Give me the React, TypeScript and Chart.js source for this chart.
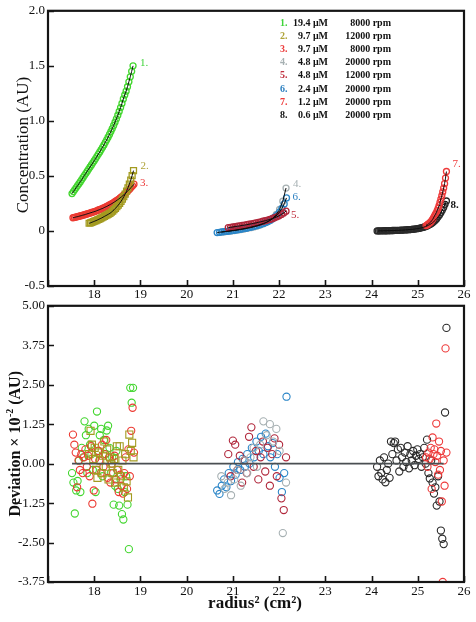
import React, { useEffect, useRef } from "react";
import { Chart, registerables } from "chart.js";

Chart.register(...registerables);

const FONT = "'Liberation Serif', 'Times New Roman', serif";

// ---------- text ----------
const SERIES_NUMBERS = ["1.", "2.", "3.", "4.", "5.", "6.", "7.", "8."];
const SERIES_CONCENTRATIONS = ["19.4 μM", "9.7 μM", "9.7 μM", "4.8 μM", "4.8 μM", "2.4 μM", "1.2 μM", "0.6 μM"];
const SERIES_SPEEDS = ["8000 rpm", "12000 rpm", "8000 rpm", "20000 rpm", "12000 rpm", "20000 rpm", "20000 rpm", "20000 rpm"];

const X_TICK_LABELS = ["", "18", "19", "20", "21", "22", "23", "24", "25", "26"];
const TOP_Y_TICK_LABELS = ["-0.5", "0", "0.5", "1.0", "1.5", "2.0"];
const BOTTOM_Y_TICK_LABELS = ["-3.75", "-2.50", "-1.25", "0.00", "1.25", "2.50", "3.75", "5.00"];

const TOP_Y_TITLE = "Concentration (AU)";
const X_TITLE = "radius² (cm²)";
const BOTTOM_Y_TITLE_PARTS = ["Deviation × 10", "-2", " (AU)"];

// ---------- data: radius² (cm²), concentration (AU), deviation (×10⁻² AU) ----------
const S1_R2 = [17.52, 17.55, 17.58, 17.61, 17.64, 17.67, 17.70, 17.73, 17.76, 17.79, 17.82, 17.85, 17.88, 17.91, 17.94, 17.97, 18.00, 18.03, 18.06, 18.09, 18.12, 18.15, 18.18, 18.21, 18.24, 18.27, 18.30, 18.33, 18.36, 18.39, 18.42, 18.45, 18.48, 18.51, 18.54, 18.57, 18.60, 18.63, 18.66, 18.69, 18.72, 18.75, 18.78, 18.81, 18.84];
const S1_CONC = [0.340, 0.358, 0.376, 0.394, 0.412, 0.430, 0.448, 0.467, 0.486, 0.505, 0.524, 0.543, 0.562, 0.581, 0.600, 0.619, 0.638, 0.658, 0.678, 0.698, 0.718, 0.739, 0.760, 0.782, 0.805, 0.828, 0.852, 0.877, 0.903, 0.930, 0.958, 0.988, 1.019, 1.051, 1.085, 1.121, 1.159, 1.199, 1.235, 1.27, 1.31, 1.355, 1.40, 1.45, 1.50];
const S1_DEV = [-0.3, -0.6, -1.58, -0.85, -0.55, 0.1, -0.9, 0.5, 0.2, 1.34, 0.9, -0.3, 1.1, 0.6, 0.3, -0.2, 1.2, -0.9, 1.65, 0.4, 0.9, 1.1, -0.4, 0.75, 0.3, 1.05, 1.2, 0.5, -0.3, 0.2, -1.3, -0.7, 0.4, -0.8, -1.33, -0.5, -1.6, -1.77, -0.9, -0.4, -1.3, -2.71, 2.4, 1.93, 2.4];

const S2_R2 = [17.89, 17.92, 17.95, 17.98, 18.01, 18.04, 18.07, 18.10, 18.13, 18.16, 18.19, 18.22, 18.25, 18.28, 18.31, 18.34, 18.37, 18.40, 18.43, 18.46, 18.49, 18.52, 18.55, 18.58, 18.61, 18.64, 18.67, 18.70, 18.73, 18.76, 18.79, 18.82, 18.85];
const S2_CONC = [0.070, 0.074, 0.079, 0.084, 0.089, 0.094, 0.100, 0.106, 0.112, 0.118, 0.125, 0.132, 0.139, 0.146, 0.153, 0.160, 0.170, 0.181, 0.193, 0.206, 0.220, 0.235, 0.251, 0.269, 0.289, 0.311, 0.335, 0.362, 0.392, 0.425, 0.462, 0.503, 0.548];
const S2_DEV = [0.3, 1.04, 0.6, 0.15, 0.5, -0.2, -0.45, 0.35, 0.1, -0.3, 0.25, 0.7, -0.1, 0.45, -0.5, 0.2, 0.0, -0.3, 0.15, -0.6, 0.55, -0.2, 0.55, -0.4, 0.1, -0.75, 0.3, -0.56, -1.07, 0.92, 0.4, 0.66, 0.2];

const S3_R2 = [17.54, 17.57, 17.60, 17.63, 17.66, 17.69, 17.72, 17.75, 17.78, 17.81, 17.84, 17.87, 17.90, 17.93, 17.96, 17.99, 18.02, 18.05, 18.08, 18.11, 18.14, 18.17, 18.20, 18.23, 18.26, 18.29, 18.32, 18.35, 18.38, 18.41, 18.44, 18.47, 18.50, 18.53, 18.56, 18.59, 18.62, 18.65, 18.68, 18.71, 18.74, 18.77, 18.80, 18.83, 18.86];
const S3_CONC = [0.120, 0.123, 0.126, 0.129, 0.132, 0.136, 0.139, 0.143, 0.146, 0.150, 0.154, 0.158, 0.162, 0.166, 0.170, 0.174, 0.178, 0.183, 0.188, 0.193, 0.198, 0.203, 0.209, 0.215, 0.221, 0.227, 0.234, 0.241, 0.248, 0.256, 0.264, 0.272, 0.281, 0.290, 0.300, 0.310, 0.321, 0.332, 0.344, 0.356, 0.369, 0.382, 0.396, 0.410, 0.425];
const S3_DEV = [0.92, 0.6, 0.35, -0.75, 0.1, -0.2, 0.3, -0.3, 0.2, 0.45, -0.1, 0.25, -0.4, 0.55, -1.27, -0.85, 0.15, -0.2, 0.4, 0.1, -0.3, 0.6, -0.1, 0.3, 0.75, -0.45, 0.2, -0.6, 0.0, -0.3, 0.25, -0.5, -0.2, -0.9, -0.35, -0.7, -0.95, -0.3, 0.2, -0.8, 0.45, -0.4, 1.04, 1.77, 0.35];

const S4_R2 = [20.75, 20.82, 20.89, 20.96, 21.03, 21.10, 21.17, 21.24, 21.31, 21.38, 21.45, 21.52, 21.59, 21.66, 21.73, 21.80, 21.87, 21.94, 22.01, 22.08, 22.15];
const S4_CONC = [-0.010, -0.007, -0.004, 0.000, 0.004, 0.008, 0.013, 0.018, 0.024, 0.030, 0.037, 0.045, 0.054, 0.065, 0.078, 0.095, 0.118, 0.150, 0.195, 0.270, 0.390];
const S4_DEV = [-0.4, -0.8, -0.6, -1.0, -0.5, -0.2, -0.7, 0.1, -0.3, 0.2, 0.5, -0.1, 0.6, 1.34, 0.9, 1.25, 0.7, 1.1, 0.4, -2.2, -0.6];

const S5_R2 = [20.90, 20.95, 21.00, 21.05, 21.10, 21.15, 21.20, 21.25, 21.30, 21.35, 21.40, 21.45, 21.50, 21.55, 21.60, 21.65, 21.70, 21.75, 21.80, 21.85, 21.90, 21.95, 22.00, 22.05, 22.10, 22.15];
const S5_CONC = [0.030, 0.033, 0.036, 0.040, 0.043, 0.046, 0.050, 0.053, 0.057, 0.061, 0.065, 0.069, 0.073, 0.078, 0.083, 0.088, 0.093, 0.099, 0.105, 0.112, 0.120, 0.128, 0.138, 0.150, 0.164, 0.180];
const S5_DEV = [0.3, -0.4, 0.73, 0.6, -0.2, 0.25, -0.6, 0.1, -0.3, 0.85, 1.15, -0.1, 0.4, -0.5, 0.2, 0.7, -0.25, 0.5, -0.7, 0.3, 0.8, -0.4, 0.6, -1.1, -1.47, 0.2];

const S6_R2 = [20.66, 20.71, 20.76, 20.81, 20.86, 20.91, 20.96, 21.01, 21.06, 21.11, 21.16, 21.21, 21.26, 21.31, 21.36, 21.41, 21.46, 21.51, 21.56, 21.61, 21.66, 21.71, 21.76, 21.81, 21.86, 21.91, 21.96, 22.01, 22.06, 22.11, 22.16];
const S6_CONC = [-0.015, -0.012, -0.009, -0.006, -0.004, -0.001, 0.002, 0.005, 0.008, 0.012, 0.015, 0.019, 0.023, 0.027, 0.032, 0.037, 0.042, 0.048, 0.054, 0.061, 0.068, 0.077, 0.087, 0.098, 0.111, 0.127, 0.147, 0.172, 0.204, 0.246, 0.300];
const S6_DEV = [-0.85, -0.96, -0.7, -0.5, -0.75, -0.3, -0.55, -0.1, -0.35, 0.05, -0.2, 0.15, -0.1, 0.3, 0.0, 0.5, 0.2, 0.7, 0.4, 0.85, 0.3, 0.95, 0.55, 0.2, 0.65, -0.1, 0.3, -0.45, -0.9, -0.3, 2.12];

const S7_R2 = [25.18, 25.21, 25.23, 25.26, 25.28, 25.30, 25.32, 25.34, 25.36, 25.38, 25.40, 25.42, 25.44, 25.46, 25.48, 25.50, 25.52, 25.54, 25.56, 25.58, 25.60, 25.62];
const S7_CONC = [0.049, 0.057, 0.064, 0.074, 0.082, 0.092, 0.104, 0.118, 0.135, 0.150, 0.165, 0.185, 0.205, 0.230, 0.260, 0.290, 0.320, 0.355, 0.390, 0.430, 0.480, 0.540];
const S7_DEV = [0.2, -0.1, 0.35, 0.15, 0.5, -0.8, 0.83, 0.3, 0.45, 0.05, 1.27, 0.25, -0.35, 0.7, -0.2, 0.4, -1.2, -3.75, 0.1, -0.7, 3.65, 0.35];

const S8_R2 = [24.12, 24.15, 24.18, 24.21, 24.24, 24.27, 24.30, 24.33, 24.36, 24.39, 24.42, 24.45, 24.48, 24.51, 24.54, 24.57, 24.60, 24.63, 24.66, 24.69, 24.72, 24.75, 24.78, 24.81, 24.84, 24.87, 24.90, 24.93, 24.96, 24.99, 25.02, 25.05, 25.08, 25.11, 25.14, 25.17, 25.20, 25.23, 25.26, 25.29, 25.32, 25.35, 25.38, 25.41, 25.44, 25.47, 25.50, 25.53, 25.56, 25.59, 25.62];
const S8_CONC = [0.000, 0.000, 0.001, 0.001, 0.001, 0.002, 0.002, 0.002, 0.003, 0.003, 0.003, 0.004, 0.004, 0.005, 0.005, 0.006, 0.006, 0.007, 0.008, 0.008, 0.009, 0.010, 0.011, 0.012, 0.013, 0.014, 0.016, 0.017, 0.019, 0.021, 0.023, 0.026, 0.029, 0.032, 0.036, 0.040, 0.045, 0.051, 0.058, 0.066, 0.075, 0.086, 0.098, 0.112, 0.128, 0.146, 0.166, 0.189, 0.214, 0.242, 0.272];
const S8_DEV = [-0.1, -0.4, 0.1, -0.3, -0.5, 0.2, -0.59, -0.2, 0.0, -0.45, 0.7, 0.3, 0.65, 0.7, 0.1, 0.45, -0.25, 0.5, 0.2, -0.1, 0.35, 0.05, 0.55, -0.15, 0.3, 0.1, 0.4, -0.05, 0.25, 0.45, 0.15, 0.3, -0.1, 0.2, 0.5, 0.0, 0.76, -0.3, -0.47, 0.1, -0.6, -0.95, -0.75, -1.33, -0.4, -1.2, -2.12, -2.38, -2.55, 1.62, 4.30];

const ZERO_LINE_X = [17.52, 25.56];

const SERIES = [
  { r2: S1_R2, conc: S1_CONC, dev: S1_DEV },
  { r2: S2_R2, conc: S2_CONC, dev: S2_DEV },
  { r2: S3_R2, conc: S3_CONC, dev: S3_DEV },
  { r2: S4_R2, conc: S4_CONC, dev: S4_DEV },
  { r2: S5_R2, conc: S5_CONC, dev: S5_DEV },
  { r2: S6_R2, conc: S6_CONC, dev: S6_DEV },
  { r2: S7_R2, conc: S7_CONC, dev: S7_DEV },
  { r2: S8_R2, conc: S8_CONC, dev: S8_DEV },
];

// ---------- styles ----------
const STYLES = [
  { color: "#43d62f", label: "#3fd43a", shape: "circle", topOrder: 3, botOrder: 3, dx: 7, dy: -3 },
  { color: "#a39b20", label: "#b0a43a", shape: "rect", topOrder: 1, botOrder: 1, dx: 7, dy: -5 },
  { color: "#ec3a32", label: "#ec3a3a", shape: "circle", topOrder: 2, botOrder: 2, dx: 6, dy: -1 },
  { color: "#a6b0b2", label: "#a6b0b2", shape: "circle", topOrder: 3, botOrder: 1, dx: 7, dy: -4 },
  { color: "#b0263a", label: "#c0303f", shape: "circle", topOrder: 1, botOrder: 2, dx: 5, dy: 4 },
  { color: "#2b86c8", label: "#2b7fc0", shape: "circle", topOrder: 2, botOrder: 3, dx: 6, dy: -1 },
  { color: "#ee3a3a", label: "#ee3a3a", shape: "circle", topOrder: 1, botOrder: 1, dx: 6, dy: -7 },
  { color: "#2a2a2a", label: "#111111", shape: "circle", topOrder: 2, botOrder: 2, dx: 4, dy: 4 },
];

function framePlugin(titleDraw: (ctx: CanvasRenderingContext2D) => void) {
  return {
    id: "frameTicks",
    afterDatasetsDraw(chart: any) {
      const { ctx, chartArea: a, scales } = chart;
      ctx.save();
      ctx.strokeStyle = "#151515";
      ctx.lineWidth = 1.6;
      ctx.beginPath();
      for (const t of scales.x.ticks) {
        const px = Math.round(scales.x.getPixelForValue(t.value)) + 0.5;
        ctx.moveTo(px, a.bottom);
        ctx.lineTo(px, a.bottom - 6);
      }
      for (const t of scales.y.ticks) {
        const py = Math.round(scales.y.getPixelForValue(t.value)) + 0.5;
        ctx.moveTo(a.left, py);
        ctx.lineTo(a.left + 6, py);
      }
      ctx.stroke();
      ctx.lineWidth = 2.2;
      ctx.strokeRect(a.left, a.top, a.right - a.left, a.bottom - a.top);
      ctx.fillStyle = "#111";
      titleDraw(ctx);
      ctx.restore();
    },
  };
}

const seriesLabelPlugin = {
  id: "seriesLabels",
  afterDatasetsDraw(chart: any) {
    const { ctx, scales } = chart;
    ctx.save();
    ctx.textBaseline = "middle";
    ctx.textAlign = "left";
    SERIES.forEach((s, i) => {
      const n = s.r2.length - 1;
      const px = scales.x.getPixelForValue(s.r2[n]);
      const py = scales.y.getPixelForValue(s.conc[n]);
      ctx.font = (i === 7 ? "bold " : "") + "11px " + FONT;
      ctx.fillStyle = STYLES[i].label;
      ctx.fillText(SERIES_NUMBERS[i], px + STYLES[i].dx, py + STYLES[i].dy);
    });
    // legend block
    SERIES_NUMBERS.forEach((num, i) => {
      const y = 23.5 + i * 13.1;
      ctx.font = "bold 10px " + FONT;
      ctx.textAlign = "left";
      ctx.fillStyle = STYLES[i].label;
      ctx.fillText(num, 280, y);
      ctx.fillStyle = "#111";
      ctx.textAlign = "right";
      ctx.fillText(SERIES_CONCENTRATIONS[i], 328, y);
      ctx.fillText(SERIES_SPEEDS[i], 391, y);
    });
    ctx.restore();
  },
};

function xScale(padding: number, height: number) {
  return {
    type: "linear",
    min: 17,
    max: 26,
    grid: { display: false, drawTicks: false },
    border: { display: false },
    afterFit: (s: any) => { s.height = height; },
    ticks: {
      stepSize: 1,
      autoSkip: false,
      maxRotation: 0,
      padding,
      color: "#111",
      font: { family: FONT, size: 13 },
      callback: (_v: any, i: number) => X_TICK_LABELS[i],
    },
  };
}

function yScale(min: number, max: number, step: number, labels: string[]) {
  return {
    type: "linear",
    min,
    max,
    grid: { display: false, drawTicks: false },
    border: { display: false },
    afterFit: (s: any) => { s.width = 48; },
    ticks: {
      stepSize: step,
      autoSkip: false,
      padding: 3,
      color: "#111",
      font: { family: FONT, size: 13 },
      callback: (_v: any, i: number) => labels[i],
    },
  };
}

function topConfig(): any {
  const datasets: any[] = [];
  SERIES.forEach((s, i) => {
    datasets.push({
      data: s.r2.map((x, j) => ({ x, y: s.conc[j] })),
      showLine: true,
      borderColor: "#0c0c0c",
      borderWidth: 1,
      pointRadius: 0,
      order: 0,
    });
    datasets.push({
      data: s.r2.map((x, j) => ({ x, y: s.conc[j] })),
      showLine: false,
      pointStyle: STYLES[i].shape,
      pointRadius: STYLES[i].shape === "rect" ? 4.2 : 3,
      pointBorderWidth: 1.3,
      pointBorderColor: STYLES[i].color,
      pointBackgroundColor: "rgba(255,255,255,0)",
      order: STYLES[i].topOrder,
    });
  });
  return {
    type: "scatter",
    data: { datasets },
    options: {
      animation: false,
      responsive: false,
      events: [],
      layout: { padding: { left: 0, right: 12, top: 10, bottom: 0 } },
      plugins: { legend: { display: false }, tooltip: { enabled: false } },
      scales: {
        x: xScale(1, 14),
        y: yScale(-0.5, 2.0, 0.5, TOP_Y_TICK_LABELS),
      },
    },
    plugins: [
      framePlugin((ctx) => {
        ctx.save();
        ctx.translate(24, 145);
        ctx.rotate(-Math.PI / 2);
        ctx.font = "17px " + FONT;
        ctx.textAlign = "center";
        ctx.textBaseline = "middle";
        ctx.fillText(TOP_Y_TITLE, 0, 0);
        ctx.restore();
      }),
      seriesLabelPlugin,
    ],
  };
}

function bottomConfig(): any {
  const datasets: any[] = [
    {
      data: ZERO_LINE_X.map((x) => ({ x, y: 0 })),
      showLine: true,
      borderColor: "#4a4f52",
      borderWidth: 1.6,
      pointRadius: 0,
      order: 0,
    },
  ];
  SERIES.forEach((s, i) => {
    datasets.push({
      data: s.r2.map((x, j) => ({ x, y: s.dev[j] })),
      showLine: false,
      pointStyle: STYLES[i].shape,
      pointRadius: STYLES[i].shape === "rect" ? 5 : 3.6,
      pointBorderWidth: 1.1,
      pointBorderColor: STYLES[i].color,
      pointBackgroundColor: "rgba(255,255,255,0)",
      order: STYLES[i].botOrder,
    });
  });
  return {
    type: "scatter",
    data: { datasets },
    options: {
      animation: false,
      responsive: false,
      events: [],
      layout: { padding: { left: 0, right: 12, top: 10, bottom: 0 } },
      plugins: { legend: { display: false }, tooltip: { enabled: false } },
      scales: {
        x: xScale(2, 40),
        y: yScale(-3.75, 5, 1.25, BOTTOM_Y_TICK_LABELS),
      },
    },
    plugins: [
      framePlugin((ctx) => {
        // x title
        ctx.save();
        ctx.font = "bold 17px " + FONT;
        ctx.textAlign = "center";
        ctx.textBaseline = "middle";
        ctx.fillText(X_TITLE, 255, 309);
        ctx.restore();
        // y title with superscript
        ctx.save();
        ctx.translate(16, 149);
        ctx.rotate(-Math.PI / 2);
        ctx.textBaseline = "middle";
        ctx.textAlign = "left";
        const big = "bold 16px " + FONT;
        const small = "bold 10px " + FONT;
        ctx.font = big;
        const w0 = ctx.measureText(BOTTOM_Y_TITLE_PARTS[0]).width;
        const w2 = ctx.measureText(BOTTOM_Y_TITLE_PARTS[2]).width;
        ctx.font = small;
        const w1 = ctx.measureText(BOTTOM_Y_TITLE_PARTS[1]).width;
        let x = -(w0 + w1 + w2) / 2;
        ctx.font = big;
        ctx.fillText(BOTTOM_Y_TITLE_PARTS[0], x, 0);
        x += w0;
        ctx.font = small;
        ctx.fillText(BOTTOM_Y_TITLE_PARTS[1], x + 0.5, -6);
        x += w1 + 0.5;
        ctx.font = big;
        ctx.fillText(BOTTOM_Y_TITLE_PARTS[2], x, 0);
        ctx.restore();
      }),
    ],
  };
}

function ChartCanvas({ make, top, height }: { make: () => any; top: number; height: number }) {
  const ref = useRef<HTMLCanvasElement>(null);
  useEffect(() => {
    const chart = new Chart(ref.current as HTMLCanvasElement, make());
    return () => chart.destroy();
  }, []);
  return (
    <canvas
      ref={ref}
      width={476}
      height={height}
      style={{ position: "absolute", left: 0, top, width: 476, height, display: "block" }}
    />
  );
}

export default function App() {
  return (
    <div style={{ position: "absolute", left: 0, top: 0, width: 476, height: 622, background: "#fff" }}>
      <ChartCanvas make={topConfig} top={0} height={300} />
      <ChartCanvas make={bottomConfig} top={295} height={327} />
    </div>
  );
}
